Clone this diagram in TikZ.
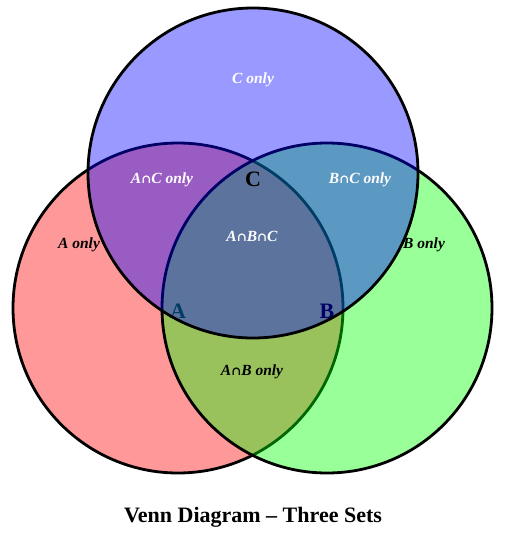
\documentclass[tikz,border=0pt]{standalone}
\usepackage{fontspec}
\setmainfont{Liberation Serif}
\newfontfamily\symfont{DejaVu Serif}
\newcommand{\capsym}{{\symfont\fontsize{12}{14}\selectfont ∩}}
\begin{document}
\begin{tikzpicture}[x=1pt,y=-1pt,
  setcircle/.style={line width=2.8pt, draw=black, fill opacity=0.4},
  setlabel/.style={font=\fontsize{22}{26}\selectfont\bfseries},
  region/.style={font=\fontsize{15.5}{18}\selectfont\bfseries\itshape},
  whitetext/.style={region, text=white},
  blacktext/.style={region, text=black}]
\useasboundingbox (0,0) rectangle (507,533);
% circle A
\begin{scope}
\draw[setcircle, fill=red] (178,308) circle (165);
\node[setlabel] (la) at (178,311) {A};
\end{scope}
% circle B
\begin{scope}
\draw[setcircle, fill=green] (327,308) circle (165);
\node[setlabel] (lb) at (327,311) {B};
\end{scope}
% circle C
\begin{scope}
\draw[setcircle, fill=blue] (253,173) circle (165);
\node[setlabel] (lc) at (253,179) {C};
\end{scope}
% region labels
\node[whitetext] (conly) at (253,80) {C only};
\node[whitetext] (aconly) at (162,180) {A\capsym C only};
\node[whitetext] (bconly) at (360,180) {B\capsym C only};
\node[whitetext] (abc) at (252,236) {A\capsym B\capsym C};
\node[blacktext] (aonly) at (79,245) {A only};
\node[blacktext] (bonly) at (424,245) {B only};
\node[blacktext] (abonly) at (252,372) {A\capsym B only};
\node[font=\fontsize{22}{26}\selectfont\bfseries] (title) at (253,517) {Venn Diagram – Three Sets};
\end{tikzpicture}
\end{document}
